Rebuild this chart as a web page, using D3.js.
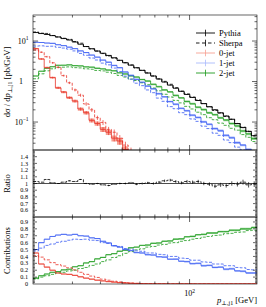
<!DOCTYPE html>
<html><head><meta charset="utf-8">
<script src="https://cdn.jsdelivr.net/npm/d3@7"></script>
<style>
body{margin:0;background:#fff}
svg{display:block}
text{font-family:"Liberation Serif","DejaVu Serif",serif;fill:#000}
</style>
</head><body>
<svg id="c" width="266" height="307"></svg>
<script>
// ---- data ----
const binEdges=[20.00,21.19,22.44,23.77,25.18,26.67,28.25,29.93,31.70,33.58,35.57,37.68,39.91,42.27,44.78,47.43,50.24,53.22,56.37,59.71,63.25,67.00,70.97,75.17,79.62,84.34,89.34,94.63,100.24,106.18,112.47,119.14,126.19,133.67,141.59,149.98,158.87,168.28,178.25,188.81,200.00];
const pythiaTotal=[16.2,15.3,14.5,13.6,12.6,11.5,10.6,9.45,8.34,7.31,6.45,5.66,5.0,4.41,3.85,3.34,2.91,2.54,2.19,1.89,1.62,1.37,1.15,0.97,0.815,0.684,0.573,0.48,0.405,0.34,0.285,0.239,0.201,0.169,0.141,0.117,0.092,0.073,0.059,0.046];
const sherpaTotal=[16.7,15.6,15.4,13.7,12.6,11.7,11.0,9.73,8.84,7.31,6.39,5.66,4.9,4.28,3.81,3.34,2.91,2.57,2.17,1.89,1.64,1.37,1.17,1.01,0.856,0.705,0.579,0.494,0.413,0.35,0.285,0.237,0.193,0.166,0.137,0.117,0.091,0.0745,0.058,0.0455];
const pythia0jet=[6.5,3.6,2.2,1.25,0.70,0.55,0.40,0.33,0.21,0.17,0.11,0.092,0.066,0.056,0.040,0.034,0.021,0.015,0.010,0.007,0.005,0.0035,0.0025,0.0018,0.0012,0.0009,0.0006,0.0004,0.0003,0.0002,0.00015,0.0001,0.0001,0.0001,0.0001,0.0001,0.0001,0.0001,0.0001,0.0001];
const sherpa0jet=[6.0,5.3,4.1,2.9,2.25,1.40,0.93,0.62,0.46,0.28,0.20,0.128,0.098,0.066,0.056,0.040,0.027,0.019,0.013,0.009,0.006,0.004,0.003,0.002,0.0014,0.001,0.0007,0.0005,0.0003,0.0002,0.0002,0.0001,0.0001,0.0001,0.0001,0.0001,0.0001,0.0001,0.0001,0.0001];
const pythia1jet=[9.3,9.2,8.9,8.75,8.1,7.7,7.05,6.5,5.7,5.2,4.5,4.0,3.38,3.0,2.5,2.2,1.72,1.42,1.13,0.96,0.77,0.66,0.50,0.42,0.32,0.275,0.218,0.19,0.148,0.13,0.101,0.088,0.069,0.061,0.047,0.041,0.031,0.027,0.021,0.0185];
const sherpa1jet=[7.5,7.6,7.4,7.45,7.0,6.7,6.3,5.7,4.95,4.45,3.8,3.4,2.85,2.58,2.15,1.76,1.36,1.14,0.91,0.79,0.62,0.53,0.39,0.325,0.24,0.213,0.17,0.152,0.119,0.104,0.079,0.069,0.053,0.047,0.036,0.031,0.024,0.0205,0.016,0.0145];
const pythia2jet=[1.37,1.8,2.12,2.32,2.52,2.53,2.58,2.46,2.43,2.3,2.26,2.12,2.05,1.92,1.84,1.64,1.54,1.38,1.29,1.12,1.03,0.855,0.745,0.62,0.555,0.455,0.395,0.322,0.282,0.232,0.203,0.169,0.152,0.127,0.112,0.092,0.080,0.060,0.051,0.039];
const sherpa2jet=[1.17,1.55,1.84,2.06,2.24,2.26,2.3,2.2,2.17,2.06,2.01,1.88,1.83,1.7,1.58,1.42,1.29,1.15,1.06,0.93,0.835,0.69,0.59,0.485,0.415,0.342,0.297,0.244,0.21,0.175,0.152,0.128,0.114,0.094,0.083,0.07,0.063,0.049,0.042,0.033];
const totalErr=[0.005,0.005,0.006,0.006,0.006,0.007,0.007,0.008,0.008,0.009,0.009,0.01,0.01,0.011,0.012,0.012,0.013,0.014,0.015,0.015,0.016,0.017,0.018,0.019,0.02,0.021,0.022,0.023,0.024,0.025,0.026,0.027,0.028,0.03,0.031,0.033,0.035,0.037,0.04,0.042];
const jetErr=[0.04,0.04,0.05,0.05,0.06,0.06,0.07,0.08,0.09,0.10,0.11,0.12,0.14,0.15,0.17,0.19,0.21,0.23,0.25,0.27,0.3,0.3,0.3,0.3,0.3,0.3,0.3,0.3,0.3,0.3,0.3,0.3,0.3,0.3,0.3,0.3,0.3,0.3,0.3,0.3];
const compErr=[0.03,0.03,0.03,0.03,0.03,0.03,0.035,0.035,0.035,0.035,0.035,0.04,0.04,0.04,0.04,0.04,0.045,0.045,0.045,0.045,0.05,0.05,0.05,0.05,0.05,0.055,0.055,0.055,0.055,0.06,0.06,0.06,0.06,0.065,0.065,0.065,0.07,0.07,0.07,0.075];
const contribErr=[0.008,0.008,0.008,0.008,0.008,0.008,0.008,0.008,0.009,0.009,0.009,0.009,0.009,0.009,0.01,0.01,0.01,0.01,0.01,0.01,0.011,0.011,0.011,0.011,0.011,0.012,0.012,0.012,0.012,0.012,0.013,0.013,0.013,0.013,0.014,0.014,0.014,0.015,0.015,0.015];
const ratioVals=[1.03,1.02,1.06,1.01,1.0,1.02,1.04,1.03,1.06,1.0,0.99,1.0,0.98,0.97,0.99,1.0,1.0,1.01,0.99,1.0,1.01,1.0,1.02,1.04,1.05,1.03,1.01,1.03,1.02,1.03,1.0,0.99,0.96,0.98,0.97,1.0,0.99,1.02,0.98,0.99];
const contribPythia0=[0.45,0.29,0.245,0.2,0.16,0.145,0.14,0.125,0.105,0.085,0.07,0.055,0.045,0.035,0.027,0.02,0.015,0.01,0.007,0.005,0.004,0.003,0.002,0.002,0.0015,0.001,0.001,0.001,0.001,0.0005,0.0005,0.0005,0.0005,0.0005,0.0005,0.0005,0.0005,0.0005,0.0005,0.0005];
const contribSherpa0=[0.41,0.39,0.35,0.31,0.28,0.26,0.235,0.205,0.17,0.14,0.115,0.095,0.07,0.055,0.04,0.03,0.02,0.013,0.009,0.006,0.005,0.004,0.003,0.002,0.002,0.0015,0.001,0.001,0.001,0.001,0.0005,0.0005,0.0005,0.0005,0.0005,0.0005,0.0005,0.0005,0.0005,0.0005];
const contribPythia1=[0.5,0.6,0.65,0.69,0.71,0.72,0.71,0.72,0.70,0.695,0.67,0.66,0.62,0.595,0.555,0.535,0.5,0.485,0.455,0.45,0.425,0.42,0.395,0.39,0.36,0.36,0.33,0.325,0.295,0.3,0.265,0.27,0.24,0.245,0.215,0.22,0.19,0.185,0.16,0.16];
const contribSherpa1=[0.48,0.52,0.56,0.58,0.605,0.62,0.635,0.65,0.645,0.65,0.635,0.63,0.6,0.59,0.555,0.545,0.515,0.505,0.48,0.475,0.45,0.45,0.43,0.425,0.4,0.4,0.375,0.37,0.345,0.345,0.32,0.315,0.29,0.29,0.265,0.265,0.24,0.235,0.21,0.205];
const contribPythia2=[0.085,0.12,0.145,0.17,0.18,0.205,0.215,0.25,0.265,0.305,0.325,0.365,0.385,0.425,0.44,0.475,0.49,0.525,0.535,0.56,0.565,0.59,0.595,0.62,0.625,0.65,0.655,0.685,0.69,0.715,0.72,0.74,0.74,0.76,0.76,0.78,0.78,0.80,0.80,0.82];
const contribSherpa2=[0.075,0.1,0.12,0.14,0.16,0.17,0.19,0.2,0.225,0.24,0.27,0.29,0.325,0.35,0.385,0.41,0.445,0.47,0.495,0.51,0.535,0.545,0.565,0.575,0.595,0.6,0.62,0.63,0.65,0.66,0.68,0.69,0.705,0.71,0.73,0.735,0.75,0.755,0.775,0.78];
const legendLabels=["Pythia","Sherpa","0-jet","1-jet","2-jet"];
const ratioTicks=[0.6,0.7,0.8,0.9,1,1.1,1.2,1.3,1.4];
const contribTicks=[0,0.1,0.2,0.3,0.4,0.5,0.6,0.7,0.8,0.9];
const xMinorTicks=[30,40,50,60,70,80,90];
const xMajorTicks=[100];

// ---- layout ----
const svg=d3.select('#c');
const L=33,R=257,T=15,MB=150,RB=217,CB=284;
const x=d3.scaleLog().domain([20,200]).range([L,R]);
const yM=d3.scaleLog().domain([0.0204,43.9]).range([MB,T]);
const yR=d3.scaleLinear().domain([0.5,1.5]).range([RB,MB]);
const yC=d3.scaleLinear().domain([0,0.972]).range([CB,RB]);

const col={red:'#e8332a',redL:'#f6a092',blue:'#3a5cf2',blueL:'#a9bafc',green:'#1d9a1d',greenL:'#93d493'};

function clip(id,y0,y1){svg.append('clipPath').attr('id',id).append('rect').attr('x',L).attr('y',y0).attr('width',R-L).attr('height',y1-y0);}
clip('cm',T,MB);clip('cr',MB,RB);clip('cc',RB,CB);

function stepPts(vals){const p=[];vals.forEach((v,i)=>{p.push([binEdges[i],v]);p.push([binEdges[i+1],v]);});return p;}
function drawStep(g,vals,ys,color,dash,w){
  g.append('path').attr('d',d3.line().x(d=>x(d[0])).y(d=>ys(Math.max(d[1],1e-6)))(stepPts(vals)))
   .attr('fill','none').attr('stroke',color).attr('stroke-width',w||0.8).attr('stroke-dasharray',dash||null);
}
function drawBand(g,vals,errs,ys,color,abs){
  const p=[];vals.forEach((v,i)=>{p.push([binEdges[i],v,errs[i]]);p.push([binEdges[i+1],v,errs[i]]);});
  const lo=d=>abs?d[1]-d[2]:d[1]*(1-d[2]), hi=d=>abs?d[1]+d[2]:d[1]*(1+d[2]);
  g.append('path').attr('d',d3.area().x(d=>x(d[0])).y0(d=>ys(Math.max(lo(d),1e-6))).y1(d=>ys(Math.max(hi(d),1e-6)))(p))
   .attr('fill',color).attr('stroke','none');
}
function drawErr(g,vals,errs,ys,color){
  vals.forEach((v,i)=>{const xc=x(Math.sqrt(binEdges[i]*binEdges[i+1]));
    g.append('line').attr('x1',xc).attr('x2',xc).attr('y1',ys(Math.max(v*(1-errs[i]),1e-6))).attr('y2',ys(Math.max(v*(1+errs[i]),1e-6)))
     .attr('stroke',color).attr('stroke-width',0.7);});
}

// ---- main panel ----
const gm=svg.append('g').attr('clip-path','url(#cm)');
drawBand(gm,pythia2jet,compErr,yM,col.greenL);
drawBand(gm,pythia1jet,compErr,yM,col.blueL);
drawBand(gm,pythia0jet,jetErr,yM,col.redL);
drawStep(gm,sherpa2jet,yM,col.green,'3,1.5');
drawStep(gm,pythia2jet,yM,col.green);
drawStep(gm,sherpa1jet,yM,col.blue,'3,1.5');
drawStep(gm,pythia1jet,yM,col.blue);
drawErr(gm,sherpa0jet,jetErr,yM,col.red);
drawErr(gm,pythia0jet,jetErr,yM,col.red);
drawStep(gm,sherpa0jet,yM,col.red,'3,1.5');
drawStep(gm,pythia0jet,yM,col.red);
drawStep(gm,sherpaTotal,yM,'#000','3,1.5');
drawStep(gm,pythiaTotal,yM,'#000',null,0.9);
drawErr(gm,pythiaTotal,totalErr,yM,'#000');

// ---- ratio panel ----
const gr=svg.append('g').attr('clip-path','url(#cr)');
gr.append('line').attr('x1',L).attr('x2',R).attr('y1',yR(1)).attr('y2',yR(1)).attr('stroke','#000').attr('stroke-width',0.7);
drawStep(gr,ratioVals,yR,'#000','3,1.5',0.8);
ratioVals.forEach((v,i)=>{const xc=x(Math.sqrt(binEdges[i]*binEdges[i+1]));
  gr.append('line').attr('x1',xc).attr('x2',xc).attr('y1',yR(v-totalErr[i])).attr('y2',yR(v+totalErr[i])).attr('stroke','#000').attr('stroke-width',0.7);});

// ---- contributions panel ----
const gc=svg.append('g').attr('clip-path','url(#cc)');
drawBand(gc,contribPythia2,contribErr,yC,col.greenL,true);
drawBand(gc,contribPythia1,contribErr,yC,col.blueL,true);
drawBand(gc,contribPythia0,contribErr,yC,col.redL,true);
drawStep(gc,contribSherpa2,yC,col.green,'3,1.5');
drawStep(gc,contribPythia2,yC,col.green);
drawStep(gc,contribSherpa1,yC,col.blue,'3,1.5');
drawStep(gc,contribPythia1,yC,col.blue);
drawStep(gc,contribSherpa0,yC,col.red,'3,1.5');
drawStep(gc,contribPythia0,yC,col.red);

// ---- frames & ticks ----
const ax=svg.append('g').attr('stroke','#000').attr('stroke-width',0.6);
[[T,MB],[MB,RB],[RB,CB]].forEach(([a,b])=>{
  ax.append('rect').attr('x',L).attr('y',a).attr('width',R-L).attr('height',b-a).attr('fill','none');
  xMinorTicks.forEach(t=>{const xx=x(t);ax.append('line').attr('x1',xx).attr('x2',xx).attr('y1',a).attr('y2',a+2.5);ax.append('line').attr('x1',xx).attr('x2',xx).attr('y1',b).attr('y2',b-2.5);});
  xMajorTicks.forEach(t=>{const xx=x(t);ax.append('line').attr('x1',xx).attr('x2',xx).attr('y1',a).attr('y2',a+5);ax.append('line').attr('x1',xx).attr('x2',xx).attr('y1',b).attr('y2',b-5);});
});
function yTick(yy,len){ax.append('line').attr('x1',L).attr('x2',L+len).attr('y1',yy).attr('y2',yy);ax.append('line').attr('x1',R).attr('x2',R-len).attr('y1',yy).attr('y2',yy);}
yM.ticks().forEach(t=>{const lg=Math.log10(t);const major=Math.abs(lg-Math.round(lg))<1e-9;const yy=yM(t);if(yy>=T&&yy<=MB)yTick(yy,major?5:2.5);});
d3.range(0.52,1.5,0.02).forEach(t=>{const major=Math.abs(t*10-Math.round(t*10))<1e-6;yTick(yR(t),major?4:2);});
d3.range(0.02,0.97,0.02).forEach(t=>{const major=Math.abs(t*10-Math.round(t*10))<1e-6;yTick(yC(t),major?4:2);});

// ---- labels ----
const fs=8, fsSmall=6.2;
function powLabel(xx,yy,base,exp,anchor){const t=svg.append('text').attr('x',xx).attr('y',yy).attr('font-size',fs).attr('text-anchor',anchor);
  t.append('tspan').text(base);if(exp!==null){t.append('tspan').attr('font-size',5.5).attr('dy',-3.5).text(exp);}return t;}
[[10,'10','1'],[1,'1',null],[0.1,'10','\u22121']].forEach(([v,b,e])=>powLabel(e===null?23:28.5,yM(v)+2.8,b,e,'end'));
ratioTicks.forEach(t=>svg.append('text').attr('x',28).attr('y',yR(t)+2.1).attr('font-size',fsSmall).attr('text-anchor','end').text(String(t)));
contribTicks.forEach(t=>svg.append('text').attr('x',28).attr('y',yC(t)+2.1).attr('font-size',fsSmall).attr('text-anchor','end').text(String(t)));
xMajorTicks.forEach(t=>{const tx=svg.append('text').attr('x',x(t)).attr('y',296).attr('font-size',fs).attr('text-anchor','middle');
  tx.append('tspan').text('10');tx.append('tspan').attr('font-size',5.5).attr('dy',-3.5).text('2');});

// x title
const xt=svg.append('text').attr('x',R).attr('y',303).attr('font-size',8.5).attr('text-anchor','end');
xt.append('tspan').attr('font-style','italic').text('p');
xt.append('tspan').attr('font-size',6).attr('dy',1.8).text('\u22A5,j1');
xt.append('tspan').attr('dy',-1.8).text(' [GeV]');

// y titles
const yt=svg.append('text').attr('transform','translate(10,82) rotate(-90)').attr('font-size',8.5).attr('text-anchor','middle');
yt.append('tspan').text('d\u03C3 / d');
yt.append('tspan').attr('font-style','italic').text('p');
yt.append('tspan').attr('font-size',6).attr('dy',1.8).text('\u22A5,j1');
yt.append('tspan').attr('dy',-1.8).text(' [pb/GeV]');
svg.append('text').attr('transform','translate(10,183.5) rotate(-90)').attr('font-size',8.5).attr('text-anchor','middle').text('Ratio');
svg.append('text').attr('transform','translate(10,250.5) rotate(-90)').attr('font-size',8.5).attr('text-anchor','middle').text('Contributions');

// ---- legend ----
const legStyle=[{c:'#000',d:null},{c:'#000',d:'3.5,2.5'},{c:col.redL,d:null},{c:col.blueL,d:null},{c:col.green,d:null}];
legendLabels.forEach((lab,i)=>{const yy=33+i*10;const s=legStyle[i];
  svg.append('line').attr('x1',196).attr('x2',215).attr('y1',yy).attr('y2',yy).attr('stroke',s.c).attr('stroke-width',0.9).attr('stroke-dasharray',s.d);
  svg.append('line').attr('x1',205.5).attr('x2',205.5).attr('y1',yy-3.3).attr('y2',yy+3.3).attr('stroke',s.c).attr('stroke-width',0.8);
  svg.append('text').attr('x',219).attr('y',yy+2.8).attr('font-size',8.5).text(lab);
});
</script>
</body></html>
